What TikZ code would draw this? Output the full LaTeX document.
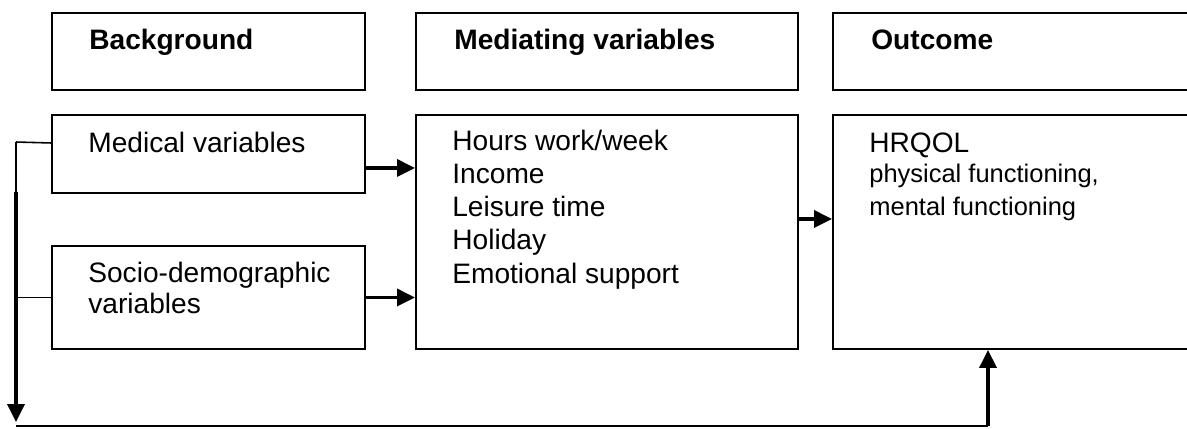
\documentclass[tikz,border=0pt]{standalone}
\usepackage{fontspec}
\setmainfont{Liberation Sans}
\usetikzlibrary{positioning,arrows.meta,calc}

\tikzset{
  box/.style={draw, line width=1.1pt, inner sep=0pt, anchor=north west},
  hdr/.style={font=\fontsize{16}{19}\selectfont\bfseries, anchor=base west, inner sep=0pt},
  txt/.style={font=\fontsize{16}{18.8}\selectfont, align=left, anchor=base west, inner sep=0pt},
  flow/.style={line width=2pt, -{Triangle[length=0.36cm,width=0.34cm]}},
  thinline/.style={line width=0.9pt}
}

\begin{document}
\begin{tikzpicture}
\useasboundingbox (0,0) rectangle (23.74,-8.56);

% header row
\node[box, minimum width=6.26cm, minimum height=1.54cm] (bg) at (1.02,-0.24) {};
\node[box, minimum width=7.64cm, minimum height=1.54cm] (medh) at (8.30,-0.24) {};
\node[box, minimum width=7.40cm, minimum height=1.54cm] (outh) at (16.64,-0.24) {};

\node[hdr] (bgt) at ([shift={(0.76,-0.74)}]bg.north west) {Background};
\node[hdr] (medht) at ([shift={(0.78,-0.74)}]medh.north west) {Mediating variables};
\node[hdr] (outht) at ([shift={(0.78,-0.74)}]outh.north west) {Outcome};

% second row
\node[box, minimum width=6.26cm, minimum height=1.56cm] (medvar) at (1.02,-2.28) {};
\node[box, minimum width=6.26cm, minimum height=2.06cm] (socio) at (1.02,-4.90) {};
\node[box, minimum width=7.64cm, minimum height=4.68cm] (mediat) at (8.30,-2.28) {};
\node[box, minimum width=7.40cm, minimum height=4.68cm] (outc) at (16.64,-2.28) {};

% (base of a multi-line node is its last line)
\node[txt] (medvart) at ([shift={(0.74,-0.76)}]medvar.north west) {Medical variables};
\node[txt, font=\fontsize{16}{17.6}\selectfont] (sociot) at ([shift={(0.74,-1.36)}]socio.north west) {Socio-demographic\\variables};
\node[txt] (mediatt) at ([shift={(0.74,-3.38)}]mediat.north west)
  {Hours work/week\\Income\\Leisure time\\Holiday\\Emotional support};
\node[txt] (outct) at ([shift={(0.74,-0.76)}]outc.north west) {HRQOL};
\node[txt, font=\fontsize{14.5}{18.6}\selectfont] (outcs) at ([shift={(0.74,-2.02)}]outc.north west)
  {physical functioning,\\mental functioning};

% arrows
\draw[flow] ([yshift=-0.28cm]medvar.east) -- ([yshift=-0.28cm]medvar.east -| mediat.west);
\draw[flow] (socio.east) -- (socio.east -| mediat.west);
\draw[flow] ([yshift=0.26cm]mediat.east) -- ([yshift=0.26cm]mediat.east -| outc.west);

% feedback loop
\coordinate (fbtop) at (0.32,-2.84);
\coordinate (fbmid) at (0.32,-3.84);
\coordinate (fbbot) at (0.32,-8.52);
\coordinate (fbend) at (19.76,-8.52);
\draw[thinline] ([yshift=0.22cm]medvar.west) -- (fbtop);
\draw[thinline] (socio.west) -- (socio.west -| fbtop);
\draw[thinline] (fbtop) -- (fbmid);
\draw[flow] (fbmid) -- ([yshift=0.08cm]fbbot);
\draw[thinline] (fbbot) -- (fbend);
\draw[flow] (fbend) -- (fbend |- outc.south);

\end{tikzpicture}
\end{document}
